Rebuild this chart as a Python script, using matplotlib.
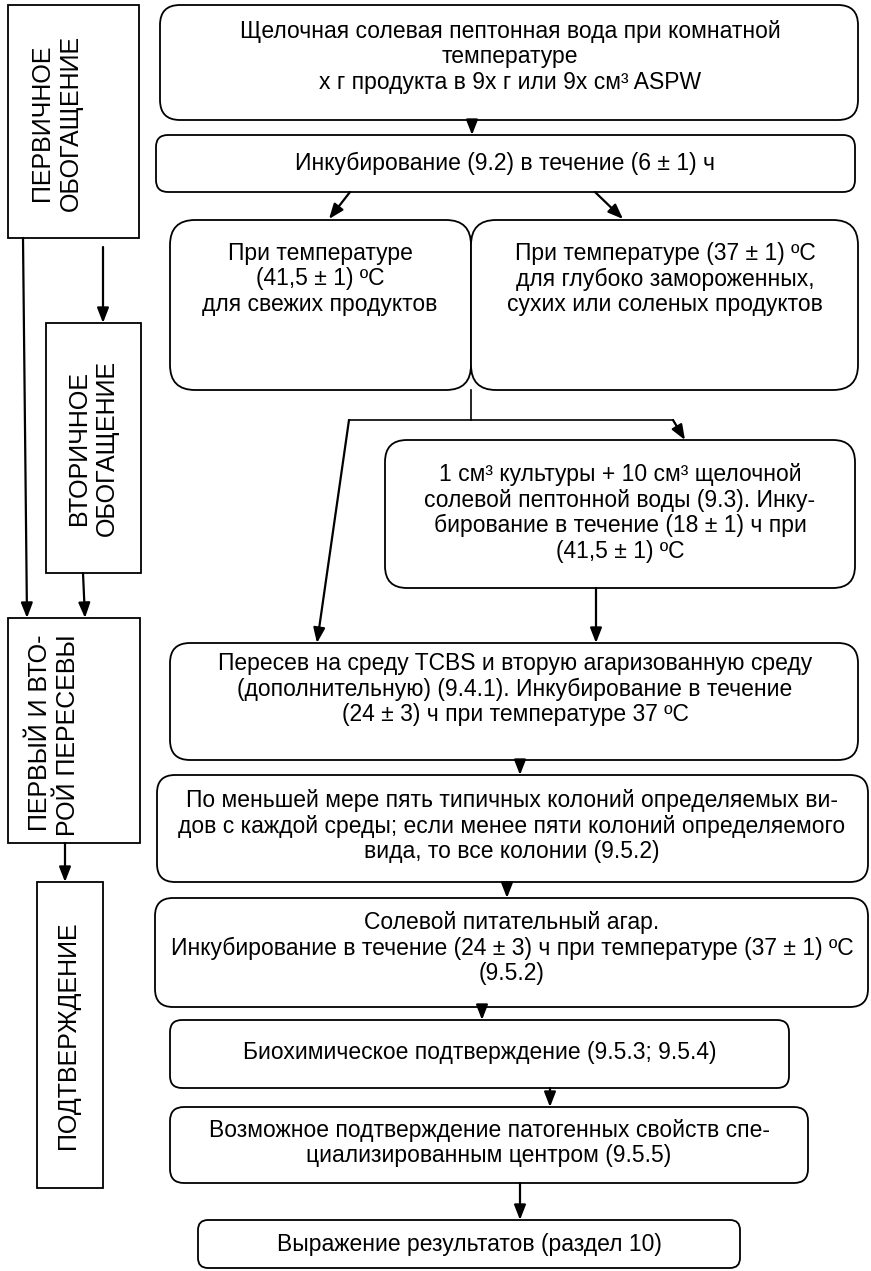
import matplotlib
matplotlib.use("Agg")
import matplotlib.pyplot as plt
from matplotlib.patches import FancyBboxPatch, Rectangle

plt.rcParams['font.family'] = ['Liberation Sans', 'DejaVu Sans']

# texts of the flowchart steps (top to bottom)
step_texts = [
    "Щелочная солевая пептонная вода при комнатной\nтемпературе\nx г продукта в 9x г или 9x см³ ASPW",
    "Инкубирование (9.2) в течение (6 ± 1) ч",
    "При температуре\n(41,5 ± 1) ºС\nдля свежих продуктов",
    "При температуре (37 ± 1) ºС\nдля глубоко замороженных,\nсухих или соленых продуктов",
    "1 см³ культуры + 10 см³ щелочной\nсолевой пептонной воды (9.3). Инку-\nбирование в течение (18 ± 1) ч при\n(41,5 ± 1) ºС",
    "Пересев на среду TCBS и вторую агаризованную среду\n(дополнительную) (9.4.1). Инкубирование в течение\n(24 ± 3) ч при температуре 37 ºС",
    "По меньшей мере пять типичных колоний определяемых ви-\nдов с каждой среды; если менее пяти колоний определяемого\nвида, то все колонии (9.5.2)",
    "Солевой питательный агар.\nИнкубирование в течение (24 ± 3) ч при температуре (37 ± 1) ºС\n(9.5.2)",
    "Биохимическое подтверждение (9.5.3; 9.5.4)",
    "Возможное подтверждение патогенных свойств спе-\nциализированным центром (9.5.5)",
    "Выражение результатов (раздел 10)",
]

# stage labels on the left
stage_texts = [
    "ПЕРВИЧНОЕ\nОБОГАЩЕНИЕ",
    "ВТОРИЧНОЕ\nОБОГАЩЕНИЕ",
    "ПЕРВЫЙ И ВТО-\nРОЙ ПЕРЕСЕВЫ",
    "ПОДТВЕРЖДЕНИЕ",
]
stage_align = ['center', 'center', 'right', 'center']

# layout (pixels): x0, y0, x1, y1, corner radius, text x, text y
step_layout = [
    (160, 5, 858, 120, 20, 510, 57),
    (156, 135, 855, 192, 12, 505, 163),
    (170, 220, 471, 390, 25, 320, 279),
    (471, 220, 858, 390, 25, 665, 279),
    (385, 440, 855, 588, 22, 620, 513),
    (170, 643, 858, 760, 20, 515, 689),
    (157, 775, 868, 882, 18, 512, 826),
    (155, 898, 868, 1007, 18, 512, 948),
    (170, 1020, 789, 1088, 12, 480, 1052),
    (170, 1107, 808, 1183, 14, 489, 1143),
    (198, 1220, 740, 1268, 10, 469, 1245),
]
stage_layout = [
    (8, 5, 139, 238, 56, 123),
    (46, 323, 141, 573, 93, 448),
    (8, 618, 140, 843, 54, 735),
    (37, 882, 103, 1188, 68, 1035),
]

# connectors: (x start, y start, x end, y end, with arrow head)
links = [
    (472, 120, 472, 135, True),
    (350, 192, 329, 219, True),
    (595, 192, 623, 219, True),
    (471, 390, 471, 420, False),
    (349, 420, 673, 420, False),
    (673, 420, 685, 440, True),
    (349, 420, 317, 643, True),
    (596, 588, 596, 643, True),
    (520, 760, 520, 775, True),
    (507, 882, 507, 898, True),
    (482, 1007, 482, 1020, True),
    (550, 1088, 550, 1107, True),
    (520, 1183, 520, 1220, True),
    (23, 238, 27, 618, True),
    (103, 247, 103, 323, True),
    (83, 573, 85, 618, True),
    (65, 843, 65, 882, True),
]

fig = plt.figure(figsize=(8.71, 12.71), dpi=100)
ax = fig.add_axes([0, 0, 1, 1])
ax.set_xlim(0, 871)
ax.set_ylim(1271, 0)
ax.axis('off')

for txt, (x0, y0, x1, y1, r, tx, ty) in zip(step_texts, step_layout):
    ax.add_patch(FancyBboxPatch((x0, y0), x1 - x0, y1 - y0,
                                boxstyle="round,pad=0,rounding_size=%d" % r,
                                fc='white', ec='black', lw=1.3))
    ax.text(tx, ty, txt, ha='center', va='center', fontsize=16.5,
            linespacing=1.15, multialignment='center')

for txt, al, (x0, y0, x1, y1, tx, ty) in zip(stage_texts, stage_align, stage_layout):
    ax.add_patch(Rectangle((x0, y0), x1 - x0, y1 - y0, fc='white', ec='black', lw=1.3))
    ax.text(tx, ty, txt, ha='center', va='center', fontsize=18, rotation=90,
            linespacing=1.25, multialignment=al)

for xs, ys, xe, ye, head in links:
    if head:
        ax.annotate('', xy=(xe, ye), xytext=(xs, ys),
                    arrowprops=dict(arrowstyle='-|>,head_length=0.9,head_width=0.35',
                                    color='black', lw=1.6, shrinkA=0, shrinkB=0))
    else:
        ax.plot([xs, xe], [ys, ye], color='black', lw=1.2)

fig.savefig('out.png', dpi=100)
